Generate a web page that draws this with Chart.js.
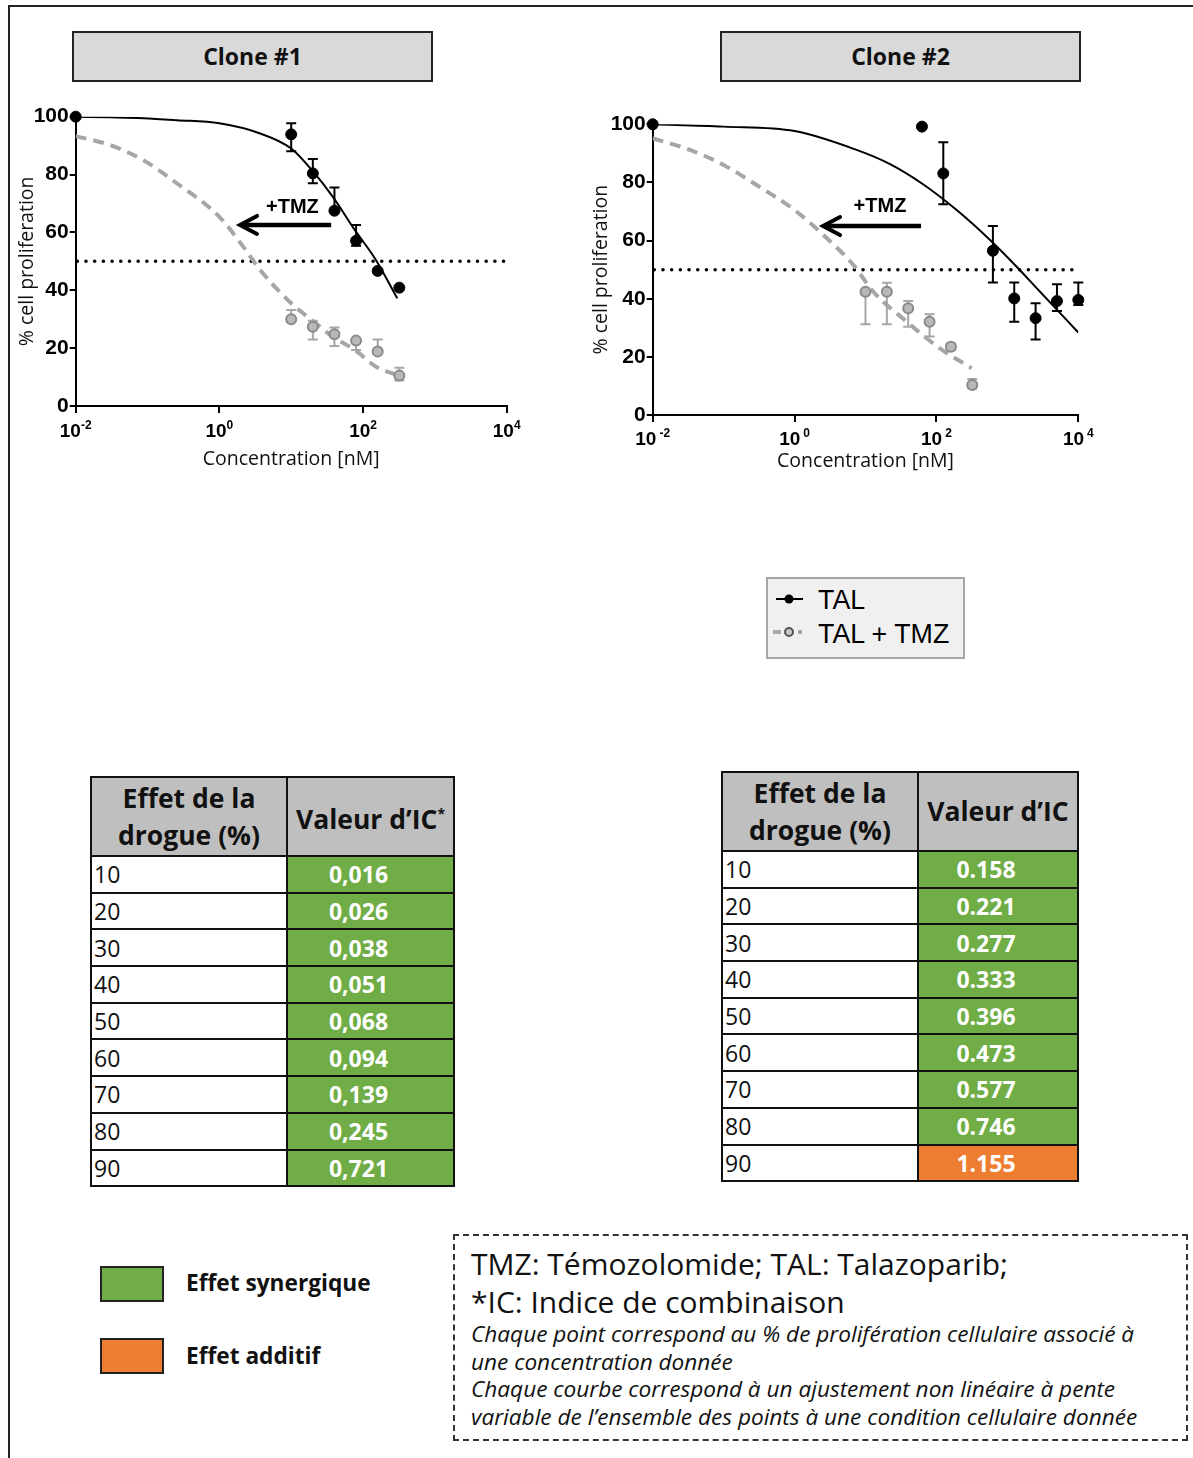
<!DOCTYPE html>
<html>
<head>
<meta charset="utf-8">
<script src="https://cdn.jsdelivr.net/npm/chart.js@4.4.1/dist/chart.umd.min.js"></script>
<style>
  body { margin: 0; background: #fff; font-family: "Open Sans", sans-serif; }
  #page { position: relative; width: 1193px; height: 1458px; overflow: hidden; }
  .frame { position: absolute; left: 8px; top: 5px; width: 1190px; height: 1460px;
           border-top: 2px solid #222; border-left: 2px solid #222; }
  .clone { position: absolute; top: 31px; width: 357px; height: 47px; background: #d9d9d9;
           border: 2px solid #222; text-align: center; line-height: 47px; font-weight: bold; font-size: 23px; color: #111; }
  canvas { position: absolute; }
  .legend { position: absolute; left: 766px; top: 577px; width: 195px; height: 78px; background: #f0f0f0;
            border: 2px solid #a6a6a6; font-family: "Liberation Sans", Arial, sans-serif; font-size: 26.8px; }
  .legend div { position: absolute; left: 50px; height: 30px; line-height: 30px; }
  .legend svg { position: absolute; left: 0; top: 0; }
  table { position: absolute; border-collapse: collapse; table-layout: fixed; }
  td { border: 2px solid #111; padding: 0; overflow: hidden; white-space: nowrap; }
  td.head { background: #bfbfbf; font-weight: bold; font-size: 26.5px; text-align: center; line-height: 37px; color: #111; }
  td.num { background: #fff; font-size: 23px; padding-left: 2px; color: #111; }
  td.val { font-weight: bold; font-size: 23px; color: #fff; text-align: center; padding-right: 24px; }
  .syn { background: #70ad47; }
  .add { background: #ed7d31; }
  .swatch { position: absolute; left: 100px; width: 60px; height: 32px; border: 2px solid #222; }
  .swlabel { position: absolute; left: 186px; font-weight: bold; font-size: 22.7px; color: #111; line-height: 30px; }
  .note { position: absolute; left: 453px; top: 1234px; width: 731px; height: 203px; border: 2px dashed #333; }
  .note div { position: absolute; left: 16px; white-space: nowrap; color: #111; }
  .big { font-size: 30px; line-height: 36px; }
  .small { font-size: 22.6px; line-height: 28px; font-style: italic; }
</style>
</head>
<body>
<div id="page">
  <div class="frame"></div>
  <div class="clone" style="left:72px">Clone #1</div>
  <div class="clone" style="left:720px">Clone #2</div>
  <canvas id="chart1" width="520" height="390" style="left:10px;top:95px"></canvas>
  <canvas id="chart2" width="520" height="390" style="left:590px;top:100px"></canvas>

  <div class="legend">
    <svg width="50" height="78">
      <line x1="8" y1="20" x2="35" y2="20" stroke="#000" stroke-width="2"/>
      <circle cx="21" cy="20" r="4.5" fill="#000"/>
      <line x1="5" y1="53" x2="13" y2="53" stroke="#a6a6a6" stroke-width="4"/>
      <line x1="30" y1="53" x2="34" y2="53" stroke="#a6a6a6" stroke-width="4"/>
      <circle cx="21" cy="53" r="4" fill="#c8c8c8" stroke="#555" stroke-width="2"/>
    </svg>
    <div style="top:6px">TAL</div>
    <div style="top:40px">TAL + TMZ</div>
  </div>

  <table id="table1" style="left:90px;top:776px;width:365px"></table>
  <table id="table2" style="left:721px;top:771px;width:358px"></table>

  <div class="swatch syn" style="top:1266px"></div>
  <div class="swlabel" style="top:1268px">Effet synergique</div>
  <div class="swatch add" style="top:1338px"></div>
  <div class="swlabel" style="top:1341px">Effet additif</div>

  <div class="note">
    <div class="big" style="top:10px">TMZ: Témozolomide; TAL: Talazoparib;</div>
    <div class="big" style="top:48px">*IC: Indice de combinaison</div>
    <div class="small" style="top:84px">Chaque point correspond au % de prolifération cellulaire associé à</div>
    <div class="small" style="top:112px">une concentration donnée</div>
    <div class="small" style="top:139px">Chaque courbe correspond à un ajustement non linéaire à pente</div>
    <div class="small" style="top:167px">variable de l’ensemble des points à une condition cellulaire donnée</div>
  </div>
</div>

<script>
// axes
const xTickValues = [0.01, 1, 100, 10000];
const xTickExponents = ['-2', '0', '2', '4'];

// Clone #1 - points (concentration nM, % proliferation, error bar ends)
const c1TalConc = [0.01, 10, 20, 40, 80, 160, 320];
const c1TalMean = [100, 93.9, 80.4, 67.5, 57.1, 46.7, 40.9];
const c1TalHi = [null, 97.7, 85.4, 75.5, 62.6, null, null];
const c1TalLo = [null, 88.1, 77.0, null, 55.4, null, null];
const c1TmzConc = [10, 20, 40, 80, 160, 320];
const c1TmzMean = [30.0, 27.4, 24.8, 22.6, 18.8, 10.5];
const c1TmzHi = [33.2, 29.5, 27.1, null, 23.0, 13.2];
const c1TmzLo = [null, 23.0, 20.7, 19.4, null, 8.8];
// Clone #1 - fitted curves
const c1TalFitX = [0.01, 0.03, 0.087, 0.255, 1, 3.7, 10, 19.3, 37.8, 77, 151, 300];
const c1TalFitY = [100, 99.8, 99.5, 98.8, 97.7, 94.2, 89, 81.6, 72.4, 60.8, 50.5, 37.2];
const c1TmzFitX = [0.01, 0.03, 0.087, 0.255, 1, 2.16, 3.7, 10, 19.3, 37.8, 77, 151, 300];
const c1TmzFitY = [93.3, 90.2, 85.0, 77.0, 65.4, 55.0, 47.0, 35.5, 29.7, 24.0, 19.4, 13.6, 10.7];

// Clone #2
const c2TalConc = [0.01, 62.5, 125, 625, 1250, 2500, 5000, 10000];
const c2TalMean = [100, 99.2, 83.1, 56.5, 40.1, 33.3, 39.2, 39.6];
const c2TalHi = [null, null, 93.8, 65.0, 45.6, 38.4, 45.0, 45.6];
const c2TalLo = [null, null, 72.5, 45.6, 32.1, 26.0, 35.8, 37.8];
const c2TmzConc = [10, 20, 40, 80, 160, 320];
const c2TmzMean = [42.4, 42.4, 36.7, 32.1, 23.5, 10.3];
const c2TmzHi = [null, 45.5, 39.2, 34.7, 24.7, 12.4];
const c2TmzLo = [31.2, 31.2, 30.4, 27.0, 22.4, 9.2];
const c2TalFitX = [0.01, 0.099, 1, 7.5, 22.2, 65.5, 193, 570, 1352, 2890, 10000];
const c2TalFitY = [100, 99.2, 97.7, 91.2, 86.3, 79.3, 70.5, 60.2, 51.0, 42.4, 28.4];
const c2TmzFitX = [0.01, 0.0336, 0.1, 0.292, 1, 2.55, 6.75, 12.9, 38.1, 112, 314];
const c2TmzFitY = [95.2, 91.2, 86.0, 79.1, 70.5, 61.9, 51.6, 42.4, 32.1, 22.9, 16.1];

const halfLine = 50;

// tables
const effets = [10, 20, 30, 40, 50, 60, 70, 80, 90];
const ic1 = ['0,016', '0,026', '0,038', '0,051', '0,068', '0,094', '0,139', '0,245', '0,721'];
const ic1Effet = ['syn', 'syn', 'syn', 'syn', 'syn', 'syn', 'syn', 'syn', 'syn'];
const ic2 = ['0.158', '0.221', '0.277', '0.333', '0.396', '0.473', '0.577', '0.746', '1.155'];
const ic2Effet = ['syn', 'syn', 'syn', 'syn', 'syn', 'syn', 'syn', 'syn', 'add'];

function buildTable(id, values, effects, star) {
    let html = '<colgroup><col style="width:196px"><col></colgroup>';
    html += '<tr style="height:79px"><td class="head">Effet de la<br>drogue (%)</td>' +
        '<td class="head">Valeur d’IC' + (star ? '<sup style="font-size:14px">*</sup>' : '') + '</td></tr>';
    for (let i = 0; i < effets.length; i++) {
        html += '<tr style="height:36.7px"><td class="num">' + effets[i] + '</td>' +
            '<td class="val ' + effects[i] + '">' + values[i] + '</td></tr>';
    }
    document.getElementById(id).innerHTML = html;
}
buildTable('table1', ic1, ic1Effet, true);
buildTable('table2', ic2, ic2Effet, false);

const pts = (xs, ys) => xs.map((x, i) => ({x: x, y: ys[i]}));

// error bars under the points
const errorBars = {
    id: 'errorBars',
    beforeDatasetsDraw(chart) {
        const ctx = chart.ctx;
        const y = chart.scales.y;
        chart.data.datasets.forEach((ds, i) => {
            if (!ds.errHi) return;
            const meta = chart.getDatasetMeta(i);
            ctx.save();
            ctx.strokeStyle = ds.errColor;
            ctx.lineWidth = 2;
            meta.data.forEach((el, j) => {
                [ds.errHi[j], ds.errLo[j]].forEach(v => {
                    if (v === null) return;
                    const py = y.getPixelForValue(v);
                    ctx.beginPath();
                    ctx.moveTo(el.x, el.y);
                    ctx.lineTo(el.x, py);
                    ctx.moveTo(el.x - 5, py);
                    ctx.lineTo(el.x + 5, py);
                    ctx.stroke();
                });
            });
            ctx.restore();
        });
    }
};

// x tick labels as powers of ten, plus the +TMZ arrow
const decorations = {
    id: 'decorations',
    afterDraw(chart, args, opts) {
        const ctx = chart.ctx;
        const x = chart.scales.x, y = chart.scales.y;
        ctx.save();
        ctx.fillStyle = '#000';
        ctx.textBaseline = 'middle';
        const ly = chart.chartArea.bottom + opts.labelOffset;
        xTickValues.forEach((v, i) => {
            const px = x.getPixelForValue(v);
            ctx.font = 'bold 19px "Liberation Sans"';
            const w1 = ctx.measureText('10').width;
            ctx.font = 'bold 12px "Liberation Sans"';
            const w2 = ctx.measureText(xTickExponents[i]).width + opts.supGap;
            const left = px - (w1 + w2) / 2;
            ctx.font = 'bold 19px "Liberation Sans"';
            ctx.textAlign = 'left';
            ctx.fillText('10', left, ly);
            ctx.font = 'bold 12px "Liberation Sans"';
            ctx.fillText(xTickExponents[i], left + w1 + opts.supGap, ly - 6);
        });
        // arrow
        const ax1 = x.getPixelForValue(opts.arrowFrom), ax2 = x.getPixelForValue(opts.arrowTo);
        const ay = y.getPixelForValue(opts.arrowY);
        ctx.strokeStyle = '#000';
        ctx.lineWidth = 4.5;
        ctx.beginPath();
        ctx.moveTo(ax1, ay);
        ctx.lineTo(ax2 + 2, ay);
        ctx.stroke();
        ctx.lineWidth = 4;
        ctx.lineCap = 'round';
        ctx.beginPath();
        ctx.moveTo(ax2 + 17, ay - 9);
        ctx.lineTo(ax2, ay);
        ctx.lineTo(ax2 + 17, ay + 9);
        ctx.stroke();
        ctx.font = 'bold 20px "Liberation Sans"';
        ctx.textAlign = 'center';
        ctx.fillText('+TMZ', x.getPixelForValue(opts.textX), y.getPixelForValue(opts.textY));
        ctx.restore();
    }
};

Chart.defaults.font.family = '"Liberation Sans", Arial, sans-serif';
Chart.defaults.color = '#000';

function makeChart(id, d, lay) {
    return new Chart(document.getElementById(id), {
        type: 'scatter',
        data: {
            datasets: [
                {
                    data: pts(d.talConc, d.talMean), errHi: d.talHi, errLo: d.talLo, errColor: '#000',
                    pointRadius: 5.5, pointBackgroundColor: '#000', pointBorderColor: '#000', showLine: false,
                    clip: false
                },
                {
                    data: pts(d.tmzConc, d.tmzMean), errHi: d.tmzHi, errLo: d.tmzLo, errColor: '#a6a6a6',
                    pointRadius: 5, pointBackgroundColor: '#b8b8b8', pointBorderColor: '#8a8a8a',
                    pointBorderWidth: 2, showLine: false, clip: false
                },
                {
                    data: pts(d.talFitX, d.talFitY), showLine: true, borderColor: '#000', borderWidth: 2,
                    pointRadius: 0, cubicInterpolationMode: 'monotone'
                },
                {
                    data: pts(d.tmzFitX, d.tmzFitY), showLine: true, borderColor: '#a6a6a6', borderWidth: 4,
                    borderDash: [11, 7], pointRadius: 0, cubicInterpolationMode: 'monotone'
                },
                {
                    data: [{x: 0.0105, y: halfLine}, {x: 10000, y: halfLine}], showLine: true, borderColor: '#000',
                    borderWidth: 3.5, borderDash: [0.1, 8.6], borderCapStyle: 'round', pointRadius: 0
                }
            ]
        },
        options: {
            responsive: false,
            animation: false,
            events: [],
            layout: {autoPadding: false, padding: {top: lay.top, right: lay.right, left: 0, bottom: 0}},
            plugins: {
                legend: {display: false},
                tooltip: {enabled: false},
                decorations: lay.deco
            },
            scales: {
                x: {
                    type: 'logarithmic', min: 0.01, max: 10000,
                    afterBuildTicks: s => { s.ticks = xTickValues.map(v => ({value: v})); },
                    afterFit: s => { s.height = lay.xH; },
                    ticks: {display: false},
                    grid: {drawOnChartArea: false, color: '#000', lineWidth: 2, tickLength: 7},
                    border: {color: '#000', width: 2},
                    title: {display: true, text: 'Concentration [nM]', color: '#111',
                        font: {family: '"Open Sans"', size: 19.5}, padding: {bottom: lay.xTitle}}
                },
                y: {
                    min: 0, max: 100,
                    afterFit: s => { s.width = lay.yW; },
                    ticks: {stepSize: 20, padding: 1, font: {weight: 'bold', size: 21}, color: '#000'},
                    grid: {drawOnChartArea: false, color: '#000', lineWidth: 2, tickLength: 6},
                    border: {color: '#000', width: 2},
                    title: {display: true, text: '% cell proliferation', color: '#111',
                        font: {family: '"Open Sans"', size: 19.5}, padding: {top: lay.yTitle}}
                }
            }
        },
        plugins: [errorBars, decorations]
    });
}

makeChart('chart1', {
    talConc: c1TalConc, talMean: c1TalMean, talHi: c1TalHi, talLo: c1TalLo,
    tmzConc: c1TmzConc, tmzMean: c1TmzMean, tmzHi: c1TmzHi, tmzLo: c1TmzLo,
    talFitX: c1TalFitX, talFitY: c1TalFitY, tmzFitX: c1TmzFitX, tmzFitY: c1TmzFitY
}, {
    top: 21.7, right: 23.3, yW: 65.7, xH: 79, xTitle: 14, yTitle: 6,
    deco: {labelOffset: 26, supGap: 0, arrowFrom: 36, arrowTo: 1.94, arrowY: 62.6, textX: 10.4, textY: 68.5}
});

makeChart('chart2', {
    talConc: c2TalConc, talMean: c2TalMean, talHi: c2TalHi, talLo: c2TalLo,
    tmzConc: c2TmzConc, tmzMean: c2TmzMean, tmzHi: c2TmzHi, tmzLo: c2TmzLo,
    talFitX: c2TalFitX, talFitY: c2TalFitY, tmzFitX: c2TmzFitX, tmzFitY: c2TmzFitY
}, {
    top: 24.3, right: 31.7, yW: 62.7, xH: 75, xTitle: 17, yTitle: 0,
    deco: {labelOffset: 25, supGap: 3, arrowFrom: 60.7, arrowTo: 2.52, arrowY: 65, textX: 16, textY: 71.9}
});
</script>
</body>
</html>
